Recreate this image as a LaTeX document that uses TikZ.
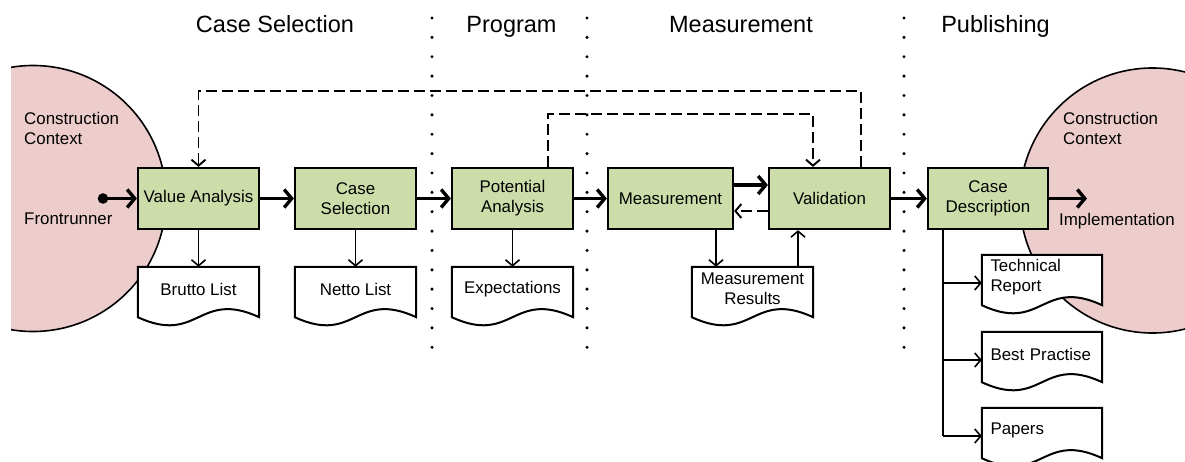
\documentclass[tikz,border=0pt]{standalone}
\usepackage{fontspec}
\setmainfont{Liberation Sans}
\usetikzlibrary{arrows.meta}
\pgfdeclarelayer{circles}
\pgfdeclarelayer{docs}
\pgfsetlayers{circles,docs,main}
\definecolor{boxgreen}{RGB}{205,221,170}
\definecolor{ctxpink}{RGB}{237,204,204}
\tikzset{
 body/.style={font=\fontsize{16.9}{20}\selectfont},
 proc/.style={body, draw, line width=2.2pt, fill=boxgreen, minimum height=61pt, minimum width=121pt, align=center, inner sep=1pt},
 docnode/.style={body, minimum width=121pt, minimum height=44pt, align=center, inner sep=0pt},
 docleft/.style={docnode, text width=103pt, align=left},
 docdraw/.style={draw, line width=2pt, fill=white, line join=miter},
 heavy/.style={line width=3.4pt, -{Straight Barb[length=7.5pt,width=18pt]}},
 light/.style={line width=1.6pt, -{Straight Barb[length=6pt,width=14pt]}},
 plain/.style={line width=1.6pt},
 dashy/.style={line width=1.9pt, dash pattern=on 11pt off 5pt, -{Straight Barb[length=6pt,width=14pt]}},
 sepline/.style={line width=3.4pt, line cap=round, dash pattern=on 0pt off 19.37pt},
 header/.style={font=\fontsize{23.5}{28}\selectfont, anchor=base},
 ctxtext/.style={body, align=left, inner sep=0pt},
 ctx/.style={draw, line width=1.6pt, fill=ctxpink},
}
\newcommand\docoutline[1]{\begin{pgfonlayer}{docs}\path[docdraw] (#1.north west) -- (#1.north east) -- ([yshift=-6pt]#1.south east) .. controls ([yshift=22pt]#1.south) and ([yshift=-34pt]#1.south) .. ([yshift=-6pt]#1.south west) -- cycle;\end{pgfonlayer}}
\begin{document}
\begin{tikzpicture}[x=1pt,y=-1pt]
\useasboundingbox (0,0) rectangle (1185,461);
% context circles
\begin{pgfonlayer}{circles}
\begin{scope}
\clip (11,0) rectangle (1185,461);
\path[ctx] (33,198.5) circle (133pt);
\end{scope}
\path[ctx] (1152.5,200.5) circle (132.5pt);
\end{pgfonlayer}
% separators
\draw[sepline] (432,18) -- (432,348);
\draw[sepline] (587,18) -- (587,348);
\draw[sepline] (904,18) -- (904,348);
% headers
\node[header] (h1) at (275,32) {Case Selection};
\node[header] (h2) at (511.5,32) {Program};
\node[header] (h3) at (741,32) {Measurement};
\node[header] (h4) at (995.5,32) {Publishing};
% context texts
\node[ctxtext, anchor=north west] (c1) at (24,112) {Construction\\Context};
\node[ctxtext, anchor=base west] (fr) at (24,224) {Frontrunner};
\node[ctxtext, anchor=north west] (c2) at (1063,112) {Construction\\Context};
\node[ctxtext, anchor=west] (im) at (1059,221) {Implementation};
% process boxes
\node[proc] (va) at (198.5,198.5) {Value Analysis};
\node[proc] (cs) at (355.5,198.5) {Case\\Selection};
\node[proc] (pa) at (512.5,198.5) {Potential\\Analysis};
\node[proc, minimum width=125pt] (me) at (670.5,198.5) {Measurement};
\node[proc] (val) at (829.5,198.5) {Validation};
\node[proc, minimum width=120pt] (cd) at (988,198.5) {Case\\Description};
% documents
\node[docnode] (bl) at (198.5,289) {Brutto List};
\node[docnode] (nl) at (355.5,289) {Netto List};
\node[docnode] (ex) at (512.5,289) {Expectations};
\node[docnode] (mr) at (752.5,289) {Measurement\\Results};
\node[docleft, minimum width=120pt] (tr) at (1042,277) {Technical\\Report};
\node[docleft, minimum width=120pt] (bp) at (1042,354) {Best Practise};
\node[docleft, minimum width=120pt] (pp) at (1042,430) {Papers};
\docoutline{bl}\docoutline{nl}\docoutline{ex}\docoutline{mr}
\docoutline{tr}\docoutline{bp}\docoutline{pp}
% helper coordinates
\coordinate (start) at (103,198.5);
\coordinate (impl) at (1087,198.5);
\coordinate (mx) at (716,0);
\coordinate (vx) at (798,0);
\coordinate (bx) at (943,0);
\coordinate (ox) at (861,91);
\coordinate (ix1) at (548,114);
\coordinate (ix2) at (813,114);
\coordinate (trin) at ([yshift=-6pt]tr.west);
\coordinate (bpin) at ([yshift=-6pt]bp.west);
\coordinate (ppin) at ([yshift=-6pt]pp.west);
% main flow
\fill (start) circle (5.3pt);
\draw[heavy] (start) -- (va.west);
\draw[heavy] (va.east) -- (cs.west);
\draw[heavy] (cs.east) -- (pa.west);
\draw[heavy] (pa.east) -- (me.west);
\draw[heavy] ([yshift=13.5pt]me.east) -- ([yshift=13.5pt]val.west);
\draw[dashy] ([yshift=-12.5pt]val.west) -- ([yshift=-12.5pt]me.east);
\draw[heavy] (val.east) -- (cd.west);
\draw[heavy] (cd.east) -- (impl);
% outputs
\draw[light] (va.south) -- (bl.north);
\draw[light] (cs.south) -- (nl.north);
\draw[light] (pa.south) -- (ex.north);
\draw[light] (me.south -| mx) -- (mr.north -| mx);
\draw[light] (mr.north -| vx) -- (val.south -| vx);
\draw[plain] (cd.south -| bx) -- (ppin -| bx);
\draw[light] (trin -| bx) -- (trin);
\draw[light] (bpin -| bx) -- (bpin);
\draw[light] (ppin -| bx) -- (ppin);
% feedback
\draw[dashy] (val.north -| ox) -- (ox) -| (va.north);
\draw[dashy] (pa.north -| ix1) -- (ix1) -- (ix2) -- (val.north -| ix2);
\end{tikzpicture}
\end{document}
